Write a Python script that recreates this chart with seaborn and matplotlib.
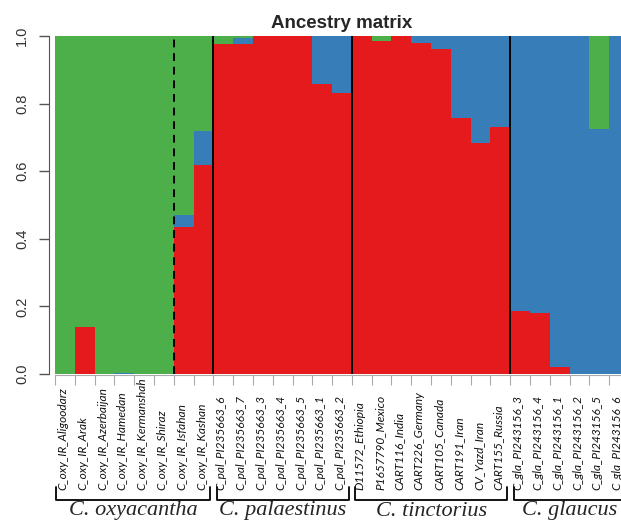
import numpy as np
import pandas as pd
import matplotlib
matplotlib.use("Agg")
import matplotlib.pyplot as plt
import matplotlib.transforms as mtransforms
import seaborn as sns

# --- data (ancestry proportions per sample) ---
samples = [
    "C_oxy_IR_Aligoodarz", "C_oxy_IR_Arak", "C_oxy_IR_Azerbaijan", "C_oxy_IR_Hamedan",
    "C_oxy_IR_Kermanshah", "C_oxy_IR_Shiraz", "C_oxy_IR_Isfahan", "C_oxy_IR_Kashan",
    "C_pal_PI235663_6", "C_pal_PI235663_7", "C_pal_PI235663_3", "C_pal_PI235663_4",
    "C_pal_PI235663_5", "C_pal_PI235663_1", "C_pal_PI235663_2",
    "D11572_Ethiopia", "P1657790_Mexico", "CART116_India", "CART226_Germany",
    "CART105_Canada", "CART191_Iran", "CV_Yazd_Iran", "CART155_Russia",
    "C_gla_PI243156_3", "C_gla_PI243156_4", "C_gla_PI243156_1", "C_gla_PI243156_2",
    "C_gla_PI243156_5", "C_gla_PI243156_6",
]
red = [0, 0.14, 0, 0, 0, 0, 0.435, 0.617,
       0.975, 0.977, 1, 1, 1, 0.857, 0.832,
       1, 0.985, 1, 0.979, 0.962, 0.757, 0.682, 0.732,
       0.187, 0.180, 0.020, 0, 0, 0]
blue = [0, 0, 0, 0.003, 0, 0, 0.036, 0.103,
        0, 0.016, 0, 0, 0, 0.143, 0.168,
        0, 0, 0, 0.021, 0.038, 0.243, 0.318, 0.268,
        0.813, 0.820, 0.980, 1, 0.726, 1]
green = [1, 0.86, 1, 0.997, 1, 1, 0.529, 0.280,
         0.025, 0.007, 0, 0, 0, 0, 0,
         0, 0.015, 0, 0, 0, 0, 0, 0,
         0, 0, 0, 0, 0.274, 0]

groups = ["C. oxyacantha", "C. palaestinus", "C. tinctorius", "C. glaucus"]
group_sizes = [8, 7, 8, 6]

RED, BLUE, GREEN = "#E41A1C", "#377EB8", "#4DAF4A"

df = pd.DataFrame({"sample": samples, "red": red, "blue": blue, "green": green})
df["rb"] = df["red"] + df["blue"]
df["total"] = df["rb"] + df["green"]

sns.set_style("white")
plt.rcParams["font.family"] = ["Liberation Sans", "DejaVu Sans"]

fig = plt.figure(figsize=(6.21, 5.24), dpi=100)
ax = fig.add_axes([55 / 621, 150 / 524, 574 / 621, 338 / 524])

# stacked bars: draw the cumulative heights back to front
for col, c in [("total", GREEN), ("rb", BLUE), ("red", RED)]:
    sns.barplot(data=df, x="sample", y=col, order=samples, color=c,
                width=1.0, linewidth=0, saturation=1, ax=ax, errorbar=None)

n = len(samples)
ax.set_xlim(-0.5, n - 0.5)
ax.set_ylim(0, 1)
ax.set_xlabel("")
ax.set_ylabel("")

# group separators
bounds = np.cumsum(group_sizes)[:-1] - 0.5
ax.axvline(5.5, color="black", lw=1.4, ls=(0, (4, 3)))
for b in bounds:
    ax.axvline(b, color="black", lw=1.4)

# axes styling (R-like)
for s in ["top", "right"]:
    ax.spines[s].set_visible(False)
ax.spines["left"].set_position(("outward", 4.5))
ax.spines["left"].set_bounds(0, 1)
ax.spines["left"].set_color("#555555")
ax.spines["bottom"].set_position(("outward", 1))
ax.spines["bottom"].set_color("#aaaaaa")
ax.set_yticks([0, 0.2, 0.4, 0.6, 0.8, 1.0])
ax.set_yticklabels(["0.0", "0.2", "0.4", "0.6", "0.8", "1.0"])
ax.tick_params(axis="y", left=True, length=7, width=1, color="#555555",
               labelsize=10.5, labelcolor="#333333", pad=7, labelrotation=90)
for lab in ax.get_yticklabels():
    lab.set_va("center")
ax.set_xticks(np.arange(n + 1) - 0.5)
ax.set_xticklabels([])
ax.tick_params(axis="x", bottom=True, length=7, width=0.8, color="#aaaaaa")

ax.set_title("Ancestry matrix", fontsize=13.5, fontweight="bold", pad=6)

# sample labels, bottom-aligned under the axis
trans = mtransforms.blended_transform_factory(ax.transData, fig.transFigure)
for i, s in enumerate(samples):
    ax.text(i - 0.1, 34 / 524, s, rotation=90, ha="center", va="bottom",
            fontsize=8.6, style="italic", family=["Lato", "DejaVu Sans"],
            color="#111111", transform=trans, clip_on=False)

# brackets and species names
y_bar = 24 / 524
y_top = 37 / 524
start = 0
for g, size in zip(groups, group_sizes):
    x0 = start - 0.5 + (0.05 if start == 0 else 0.18)
    x1 = start + size - 0.5 - 0.15
    ax.plot([x0, x0, x1, x1], [y_top, y_bar, y_bar, y_top], color="black",
            lw=1.3, transform=trans, clip_on=False)
    ax.text((x0 + x1) / 2, 13 / 524, g, ha="center", va="center",
            fontsize=16, style="italic", family=["Liberation Serif", "DejaVu Serif"],
            transform=trans, clip_on=False)
    start += size

fig.savefig("out.png", dpi=100)
